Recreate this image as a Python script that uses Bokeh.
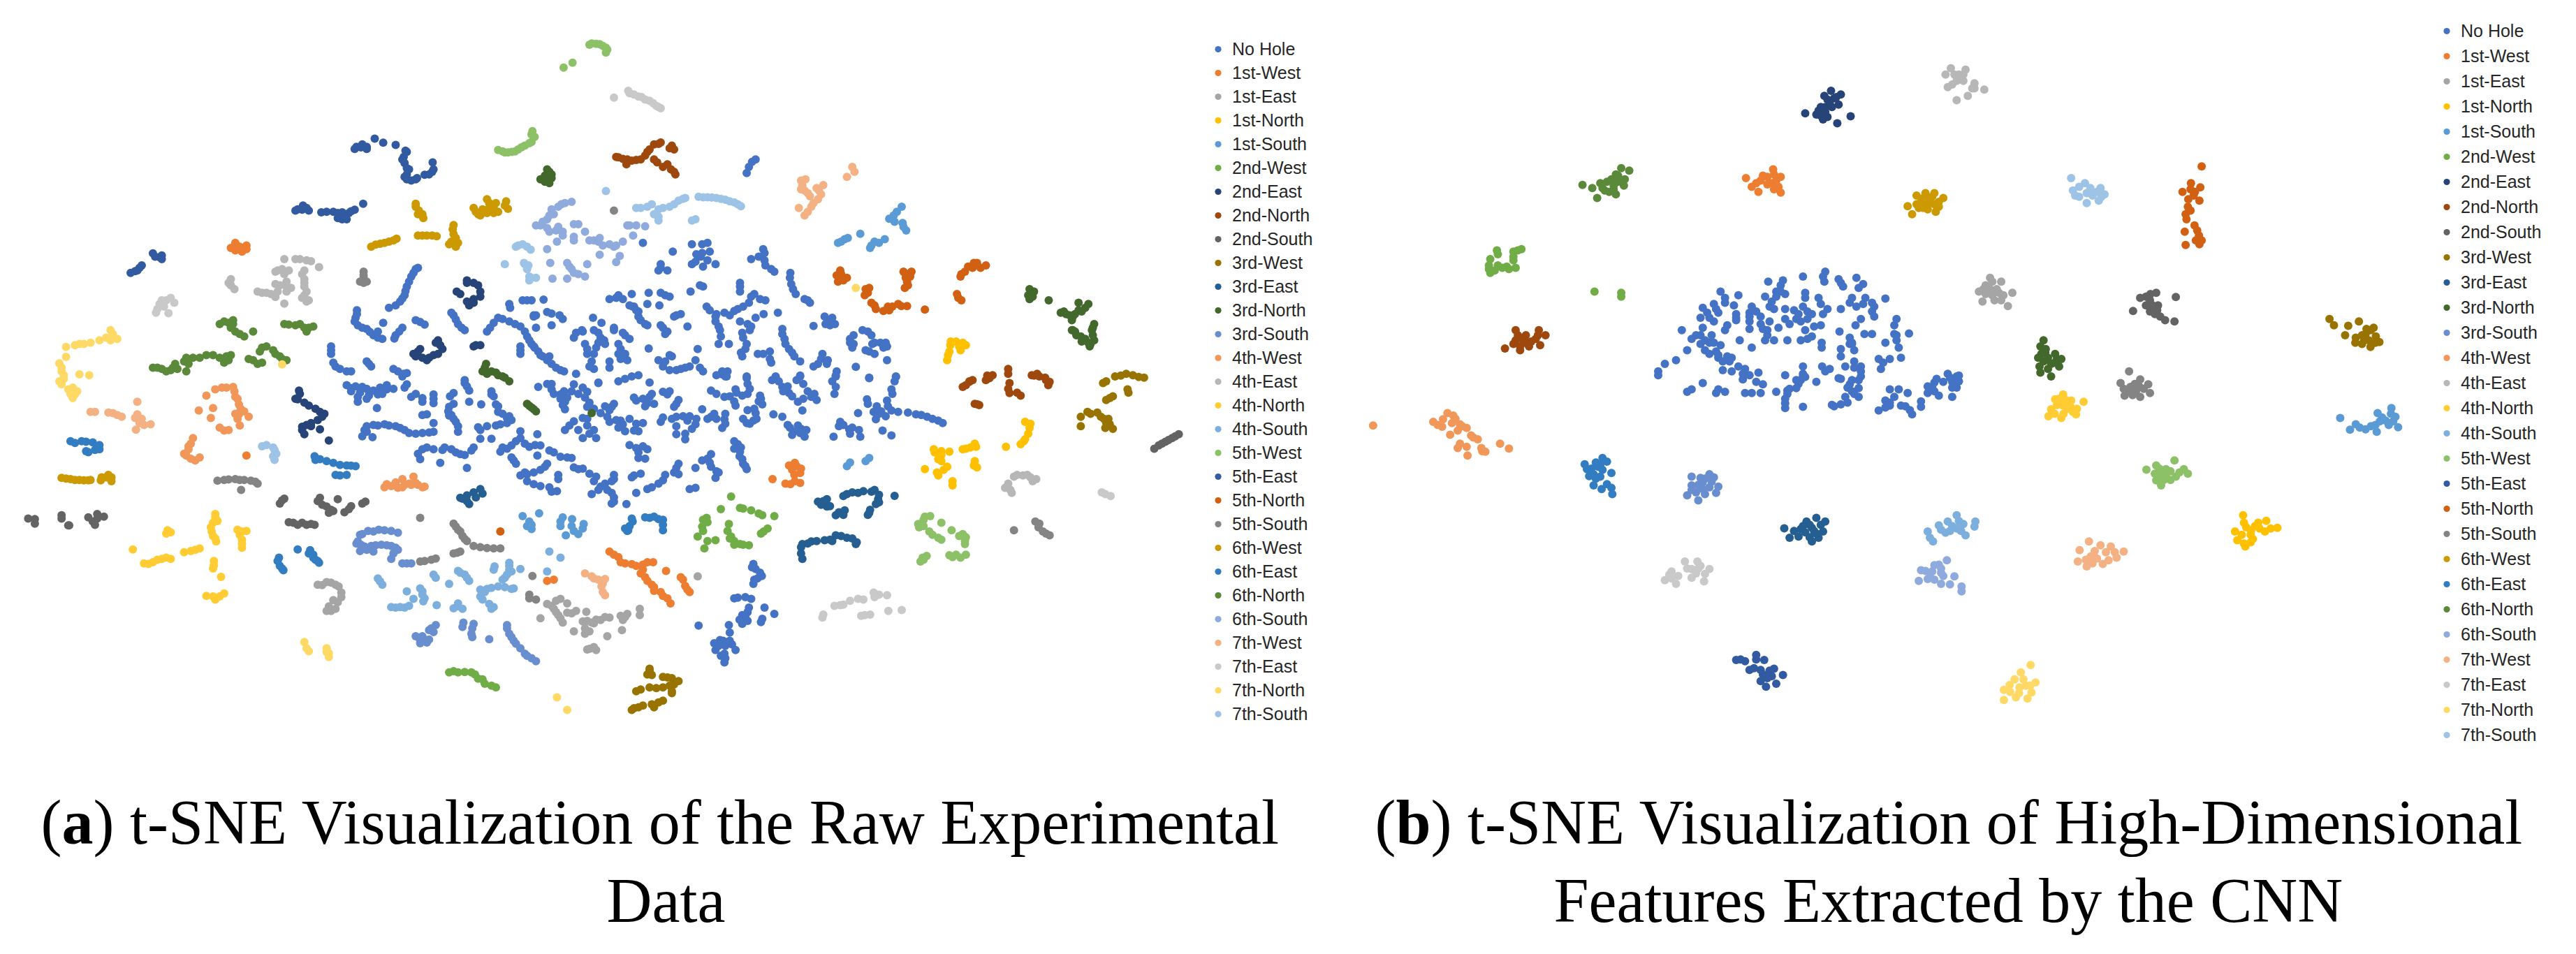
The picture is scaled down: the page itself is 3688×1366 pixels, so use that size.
from bokeh.embed import file_html
from bokeh.resources import INLINE
from bokeh.plotting import figure
from bokeh.models import Range1d, Legend, LegendItem
from bokeh.layouts import row
from bokeh.core.properties import value

NAMES = ["No Hole","1st-West","1st-East","1st-North","1st-South","2nd-West","2nd-East","2nd-North","2nd-South",
         "3rd-West","3rd-East","3rd-North","3rd-South","4th-West","4th-East","4th-North","4th-South",
         "5th-West","5th-East","5th-North","5th-South","6th-West","6th-East","6th-North","6th-South",
         "7th-West","7th-East","7th-North","7th-South"]
COLORS = ["#4472C4","#ED7D31","#A5A5A5","#FFC000","#5B9BD5","#70AD47","#264478","#9E480E","#636363",
          "#997300","#255E91","#43682B","#698ED0","#F1975A","#B7B7B7","#FFCD33","#7CAFDD",
          "#8CC168","#325AA0","#D26012","#848484","#CC9A00","#327DC2","#5A8A39","#8FAADC",
          "#F4B183","#C9C9C9","#FFD966","#9DC3E6"]

# Panel (a): t-SNE embedding of the raw data (arbitrary embedding units)
A = {}
A["No Hole"] = [(945,1100),(935,1130),(925,1170),(920,1205),(910,1230),(885,1255),(813,1265),(810,1295),(815,1325),(835,1340),(850,1365),(870,1380),(872,1315),
 (955,1312),(915,1335),(900,1365),(1030,1285),(1040,1320),(1055,1345),(1105,1350),(1130,1295),(1155,1310),(1180,1330),(1195,1370),(1205,1400),(1220,1430),(1240,1465),(1270,1505),
 (1180,1425),(1155,1240),(1185,1225),(1205,1225),(1232,1222),(1210,1285),(1250,1278),(1275,1300),(1215,1335),(1250,1325),(1395,1215),(1430,1200),(1468,1195),(1505,1205),(1432,1250),(1465,1240),(1492,1245),
 (1343,1295),(1362,1315),(1390,1335),(1300,1375),(1320,1350),(1345,1345),(1360,1375),(1415,1365),(1370,1400),(1435,1250),(1445,1290),(1460,1320),(1500,1335),(1505,1360),(1530,1285),(1555,1330),
 (755,1425),(765,1490),(790,1510),(840,1480),(905,1510),(915,1530),(1330,1420),(1340,1470),(1345,1500),(1380,1495),(1405,1420),(1405,1460),(1468,1418),(1520,1450),(1500,1490),(1530,1505),(1560,1490),
 (1305,1520),(1250,1560),(1355,1555),(1430,1530),(1400,1550),(1470,1555),(1490,1465),(1495,1095),(1522,1030),(1455,995),(1565,1000),(1565,1080),(1562,1190),
 (800,1577),(825,1572),(850,1587),(880,1582),(815,1612),(840,1607),(860,1602),(858,1657),(925,1517),(925,1562),(935,1612),(960,1617),(985,1602),(985,1637),
 (1055,1557),(1030,1597),(1065,1587),(1065,1632),(1115,1602),(1092,1642),(1125,1642),(1130,1672),(1150,1697),(1150,1717),(1125,1727),(1085,1734),(970,1682),(985,1717),(1020,1652),(1020,1687),(1035,1712),(1040,1752),
 (1220,1572),(1250,1582),(1270,1602),(1280,1632),(1300,1562),(1330,1592),(1355,1557),(1280,1662),(1330,1652),(1385,1652),(1360,1677),
 (835,1752),(860,1727),(885,1727),(910,1737),(930,1757),(960,1757),(985,1752),(848,1774),(1090,1780),(1115,1780),(1180,1777),(1160,1807),(1135,1832),(1200,1812),(1218,1762),(1225,1807),(1218,1847),
 (960,1822),(955,1862),(985,1822),(1025,1822),(1045,1842),(1070,1827),(1000,1877),(1060,1897),(1165,1867),(1245,1827),(1270,1852),(1295,1857),(1195,1922),(1180,1927),(1235,1892),(1210,1962),(1265,1942),(1250,1992),(1340,2002),
 (1310,1902),(1350,1932),(1390,1942),(1360,1972),(1385,1997),(1390,2032),(1418,2042),(1440,1817),(1465,1822),(1445,1857),(1435,1927),(1500,1947),(1465,1982),(1440,1997),(1530,1897),(1535,1922),(1560,1982),
 (1440,1627),(1470,1612),(1465,1637),(1500,1592),(1525,1652),(1510,1602),(1380,1712),(1410,1722),(1435,1747),(1455,1717),(1495,1712),(1530,1692),(1555,1707),(1530,1762),(1550,1782),
 (1290,1727),(1320,1697),(1330,1727),(1320,1777),(1350,1777),(1405,1707),(1375,1692),
 (1708,660),(1693,690),(1688,715),(1588,1000),(1588,1035),(1573,1070),(1618,1080),(1728,1035),(1698,1060),(1728,1065),(1743,1100),(1786,1115),(1788,1160),(1798,1200),(1830,1235),(1818,1220),(1583,1165),(1673,1170),(1673,1190),
 (1698,1210),(1718,1220),(1693,1235),(1668,1260),(1598,1250),(1638,1275),(1618,1310),(1726,1280),(1758,1275),(1698,1330),(1678,1355),(1628,1345),(1673,1310),(1768,1340),(1773,1380),(1783,1420),(1838,1328),(1873,1305),(1863,1290),(1886,1320),
 (1688,1400),(1678,1450),(1713,1440),(1648,1400),(1743,1475),(1808,1470),(1858,1440),(1848,1480),(1868,1480),(1928,1365),(1928,1400),(1948,1345),(1968,1365),(1988,1395),(2003,1410),(1963,1430),(2003,1465),(1933,1492),
 (1578,1420),(1573,1465),(1583,1495),(1633,1510),(1643,1530),(1688,1530),(1753,1530),(1808,1530),(1888,1530),(1963,1535),(2023,1530),
 (1633,1522),(1688,1537),(1753,1532),(1768,1572),(1808,1527),(1888,1527),(1888,1572),(1963,1537),(2023,1532),(2013,1582),(1608,1587),(1638,1612),(1663,1582),(1678,1607),(1663,1647),(1718,1607),(1723,1642),(1708,1677),
 (1783,1597),(1803,1632),(1833,1612),(1813,1667),(1748,1682),(1768,1692),(1588,1662),(1608,1692),(1638,1702),(1633,1737),(1573,1722),(1688,1717),(1703,1707),
 (2003,1627),(2013,1667),(2028,1672),(1938,1677),(1973,1672),(1978,1702),(2068,1682),(2093,1692),(2118,1707),(2128,1717),(1958,1622),(1803,1727),(1808,1757),(1818,1772),(1793,1752),
 (1898,1712),(1918,1742),(1943,1772),(1883,1772),(1993,1747),(2013,1767),(1668,1802),(1673,1832),(1678,1862),(1688,1902),(1608,1842),(1588,1867),(1608,1892),(1618,1937),(1573,1897),(1573,1977),
 (1703,2282),(1718,2317),(1703,2362),(1708,2302),(1668,2417),(1698,2422),(1693,2457),(1728,2457),(1678,2487),(1678,2522),(1723,2502),(1750,2482),(1648,2527),(1650,2557),(1580,2529),
 (1628,2587),(1648,2597),(1618,2627),(1638,2642),(1663,2627),(1638,2677),
 (950,1095),(940,1115),(930,1150),(922,1188),(915,1218),(900,1245),(813,1280),(808,1310),(825,1335),(842,1352),(860,1375),(860,1350),(945,1305),(965,1322),(908,1350),(897,1378),(1025,1275),(1035,1302),(1048,1335),
 (1112,1335),(1120,1315),(1140,1300),(1168,1320),(1190,1350),(1200,1385),(1212,1415),(1230,1450),(1250,1480),(1260,1495),(1278,1510),(1210,1410),(1225,1445),(1245,1450),(1180,1410),(1180,1440),(1157,1255),(1195,1225),(1215,1285),(1240,1272),(1268,1285),(1210,1290),
 (1380,1220),(1400,1205),(1410,1220),(1495,1195),(1515,1210),(1425,1245),(1440,1265),(1325,1400),(1330,1440),(1335,1490),(1345,1440),(1350,1415),(1400,1400),(1400,1440),(1415,1440),(1420,1465),(1380,1470),
 (1305,1355),(1318,1345),(1355,1355),(1355,1395),(1368,1385),(1410,1355),(1425,1380),(1390,1345),(1445,1270),(1450,1305),(1465,1325),(1495,1325),(1510,1350),(1525,1290),(1540,1280),
 (755,1440),(755,1410),(760,1475),(775,1500),(800,1510),(835,1470),(845,1490),(895,1500),(918,1520),(1515,1505),(1550,1495),(1540,1500),(1505,1470),(1515,1445),(1415,1540),(1445,1525),(1495,1080),(1490,1105),(1510,1105),
 (790,1565),(800,1590),(810,1570),(835,1580),(840,1590),(865,1575),(880,1565),(895,1580),(820,1595),(870,1600),(835,1620),(815,1632),(920,1575),(945,1600),(960,1632),(985,1620),
 (1055,1545),(1060,1570),(1022,1610),(1030,1640),(1115,1590),(1120,1610),(1130,1650),(1140,1680),(1155,1690),(1160,1705),(1135,1722),(1105,1730),(1090,1745),(960,1685),(1018,1670),(1030,1700),(1040,1730),(1025,1685),
 (1240,1560),(1255,1600),(1278,1590),(1285,1615),(1275,1645),(1295,1590),(1320,1575),(1310,1600),(1270,1620),(1325,1615),(1335,1635),(1345,1660),(1370,1650),(1380,1665),(1390,1640),
 (825,1770),(835,1730),(850,1725),(875,1722),(900,1730),(920,1745),(945,1760),(975,1755),(830,1745),(1170,1790),(1150,1820),(1140,1815),(1180,1750),(1190,1800),(1213,1805),(950,1840),(970,1815),(1005,1825),(1010,1815),(1035,1835),(1055,1845),(1075,1815),
 (1160,1855),(1255,1835),(1285,1855),(1170,1880),(1190,1915),(1210,1915),(1225,1905),(1240,1880),(1195,1950),(1225,1970),(1245,1975),(1265,1925),(1262,1990),(1300,1895),(1320,1900),(1335,1920),(1345,1950),(1355,1985),(1370,1960),(1390,1925),(1385,1950),(1375,1985),(1390,2015),(1385,2040),
 (1425,1805),(1455,1810),(1445,1835),(1460,1860),(1430,1935),(1450,1920),(1490,1960),(1505,1925),(1525,1915),(1535,1880),(1475,1975),(1435,1615),(1455,1620),(1460,1650),(1480,1640),(1475,1600),(1515,1590),(1530,1640),(1535,1625),(1395,1705),(1400,1735),(1415,1750),(1440,1720),(1425,1700),(1445,1750),(1500,1695),(1520,1700),(1545,1690),(1560,1690),(1530,1730),(1565,1740),(1550,1760),
 (1280,1745),(1300,1710),(1310,1745),(1330,1700),(1335,1760),(1345,1745),(1700,670),(1600,995),(1605,1030),(1585,1050),(1600,1065),(1575,1040),(1590,1090),(1725,1020),(1715,1050),(1730,1085),(1750,1110),(1785,1135),(1792,1180),(1825,1225),(1590,1170),(1673,1155),
 (1705,1200),(1730,1225),(1680,1250),(1660,1268),(1605,1265),(1620,1280),(1650,1285),(1618,1290),(1708,1295),(1690,1320),(1695,1345),(1680,1375),(1625,1330),(1630,1370),(1768,1360),(1775,1400),(1790,1435),(1795,1450),(1865,1320),(1875,1325),(1880,1295),
 (1685,1420),(1675,1435),(1725,1440),(1740,1430),(1625,1400),(1740,1460),(1855,1460),(1870,1465),(1838,1490),(1890,1510),(1920,1380),(1925,1415),(1960,1350),(1975,1395),(1995,1415),(1970,1400),(2000,1395),(1955,1425),(1975,1440),(1920,1395),(1590,1510),(1645,1510),(1620,1525),
 (1640,1530),(1690,1560),(1745,1545),(1760,1550),(1770,1590),(1780,1570),(1800,1545),(1815,1560),(1825,1590),(1840,1600),(1845,1625),(1815,1620),(1790,1610),(1880,1550),(1885,1600),(2020,1550),(2015,1600),(2005,1650),
 (1620,1600),(1650,1610),(1660,1630),(1665,1595),(1690,1600),(1695,1580),(1715,1630),(1720,1620),(1705,1660),(1690,1665),(1600,1700),(1620,1700),(1640,1720),(1615,1680),(1640,1680),(1575,1700),(1680,1700),(1695,1720),(1710,1700),
 (1980,1650),(1990,1670),(1985,1680),(2000,1690),(2050,1675),(2080,1685),(2105,1700),(1960,1640),(1780,1725),(1790,1765),(1810,1740),(1822,1745),(1785,1735),(1895,1730),(1905,1725),(1925,1735),(1920,1760),(1940,1745),
 (1660,1820),(1675,1815),(1660,1790),(1672,1850),(1680,1880),(1685,1890),(1600,1860),(1605,1875),(1620,1910),(1625,1915),(1700,2295),(1722,2330),(1712,2340),(1705,2345),(1690,2475),(1685,2495),(1672,2505),(1690,2510),(1660,2420),(1685,2415),(1720,2515),
 (1625,2610),(1640,2610),(1655,2605),(1630,2650),(1640,2660),(1650,2590),(1615,2600),(1635,2590)]
A["1st-West"] = [(540,995),(565,1005),(540,1025),(555,1030),(565,1847),(1380,2232),(1400,2255),(1405,2275),(1430,2283),(1455,2285),(1478,2275),(1455,2305),(1460,2335),(1475,2365),(1480,2390),(1500,2410),(1517,2440),(1507,2310),(1545,2345),(1550,2370),(1560,2395),(1240,2350),(1255,2345),
 (1796,1877),(1783,1887),(1808,1917),(1746,1942),(1786,1962),(1808,1957),(550,1010),(530,1015),(565,1020),(540,1010),(1390,2245),(1415,2280),(1440,2290),(1465,2275),(1450,2320),(1465,2350),(1480,2375),(1495,2395),(1510,2420),(1540,2335),(1555,2385),(1800,1890),(1790,1905),(1810,1900),(1795,1925),(1796,1950),(1775,1960)]
A["1st-East"] = [(735,2367),(755,2357),(772,2372),(778,2397),(760,2427),(750,2452),(765,2462),(1270,2422),(1240,2442),(1255,2462),(1265,2487),(1285,2477),(1275,2517),(1225,2500),(1328,2474),(1320,2512),(1340,2517),(1360,2507),(1380,2497),(1420,2482),(1410,2507),(1448,2462),(1448,2487),(1300,2552),(1325,2562),(1335,2552),(1375,2572),(1408,2547),(1335,2622),(1350,2627),(1578,2332),
 (725,2365),(745,2355),(765,2365),(778,2415),(770,2435),(745,2470),(755,2470),(1250,2450),(1260,2475),(1270,2500),(1260,2430),(1285,2440),(1295,2480),(1305,2470),(1330,2510),(1350,2505),(1370,2495),(1345,2520),(1415,2495),(1405,2490),(1325,2540),(1330,2625),(1345,2615)]
A["1st-North"] = [(2146,1390),(2173,1395),(2168,1425),(2143,1430),(2138,1465),(2108,1822),(2143,1832),(2118,1862),(2138,1892),(2118,1927),(2088,1902),(2173,1822),(2203,1812),(2198,1887),(2150,1967),(2313,1712),(2323,1737),(2313,1782),(2303,1802),(2270,1812),
 (2158,1390),(2145,1405),(2165,1410),(2180,1405),(2140,1445),(2110,1835),(2125,1830),(2125,1845),(2125,1870),(2130,1905),(2115,1915),(2180,1820),(2190,1815),(2200,1800),(2200,1870),(2205,1895),(2150,1950),(2325,1720),(2320,1760),(2310,1790)]
A["1st-South"] = [(1185,2090),(1200,2112),(1205,2142),(1222,2079),(1270,2112),(1296,2102),(1322,2122),(1282,2167),(1310,2162),(2036,850),(2018,885),(2008,898),(2038,915),(2046,945),(1943,958),(1908,980),(1893,995),(1968,1005),(1998,980),(1963,1857),(1913,1890),
 (1195,2130),(1205,2125),(1270,2130),(1275,2095),(1295,2130),(1320,2140),(1300,2150),(2025,870),(2020,910),(2040,930),(1915,975),(1900,990),(1975,990),(1985,995),(1965,1015),(1955,1870),(1920,1875)]
A["2nd-West"] = [(1653,2012),(1598,2097),(1588,2132),(1630,2062),(1673,2057),(1698,2067),(1723,2087),(1750,2090),(1726,2152),(1648,2122),(1653,2172),(1673,2202),(1693,2207),(1578,2172),(1618,2187),(1593,2220),(1040,2717),(1070,2717),(1085,2742),(1100,2762),(1125,2777),(1020,2717),
 (1600,2115),(1650,2180),(1660,2190),(1645,2150),(1680,2060),(1715,2080),(1735,2140),(1720,2160),(1590,2105),(1590,2150),(1600,2190),(1660,2205),(1680,2205),(1030,2712),(1055,2715),(1078,2725),(1095,2745),(1115,2770)]
A["2nd-East"] = [(1060,1145),(1075,1155),(1037,1190),(1090,1190),(1075,1220),(1065,1245),(955,1420),(940,1440),(960,1455),(995,1385),(1005,1420),(985,1445),(970,1465),(1080,1405),
 (683,1587),(680,1622),(705,1647),(730,1672),(735,1692),(710,1717),(690,1732),(695,1762),(730,1742),(750,1787),(1060,1155),(1085,1165),(1045,1200),(1090,1210),(1060,1230),(1075,1235),(950,1430),(945,1450),(990,1395),(1000,1405),(995,1440),(975,1455),(1075,1410),(1090,1405),(685,1600),(675,1620),(695,1635),(720,1660),(740,1680),(725,1705),(700,1725),(690,1745),(710,1730)]
A["2nd-North"] = [(1400,652),(1420,660),(1440,662),(1418,680),(1465,630),(1480,600),(1495,592),(1520,605),(1525,620),(1487,672),(1510,680),(1518,700),(1528,720),
 (2275,1500),(2328,1525),(2358,1535),(2233,1535),(2188,1550),(2173,1572),(2188,1552),(2233,1537),(2228,1527),(2278,1557),(2278,1597),(2303,1607),(2333,1527),(2368,1552),(2206,1642),
 (1395,650),(1410,658),(1430,665),(1450,660),(1460,645),(1470,620),(1490,598),(1515,615),(1480,660),(1500,690),(1525,710),(2195,1545),(2180,1565),(2225,1545),(2240,1525),(2275,1520),(2275,1580),(2295,1595),(2345,1530),(2360,1545),(2365,1565),(2340,1520),(2200,1640),(2210,1645)]
A["2nd-South"] = [(90,2102),(150,2087),(167,2127),(230,2082),(220,2112),(245,2092),(645,2027),(730,2017),(745,2052),(770,2022),(832,2032),(750,2077),(795,2062),(670,2117),(690,2117),(710,2122),(2613,1807),(2628,1792),(2643,1777),(2658,1762),
 (90,2120),(75,2100),(150,2100),(165,2127),(230,2100),(225,2125),(210,2095),(640,2040),(650,2020),(725,2030),(735,2045),(755,2065),(760,2070),(785,2075),(800,2050),(825,2040),(660,2115),(680,2125),(700,2125),(718,2125),(2603,1820),(2620,1800),(2635,1785),(2650,1770)]
A["3rd-West"] = [(1470,2702),(1475,2727),(1510,2737),(1535,2752),(1440,2792),(1470,2777),(1500,2777),(1520,2792),(1445,2857),(1430,2867),(1490,2837),(1480,2857),
 (2528,1527),(2568,1532),(2488,1557),(2543,1582),(2503,1617),(2453,1672),(2483,1692),(2503,1722),(2493,1737),(2438,1692),(2438,1730),
 (1470,2710),(1465,2725),(1500,2735),(1520,2740),(1525,2765),(1450,2785),(1485,2780),(1515,2770),(1435,2860),(1455,2850),(1500,2830),(1475,2845),(1520,2800),(2515,1530),(2540,1520),(2555,1525),(2580,1535),(2495,1550),(2510,1610),(2495,1625),(2460,1680),(2475,1675),(2490,1700),(2500,1700),(2510,1740),(2495,1715),(2545,1595)]
A["3rd-East"] = [(1090,1982),(1060,2007),(1045,2017),(1065,2042),(1848,2032),(1868,2022),(1868,2052),(1913,2002),(1938,1997),(1968,1992),(1983,2022),(1978,2042),(1963,2077),(1908,2067),(1888,2087),(2020,2009),
 (1813,2202),(1833,2192),(1863,2187),(1888,2167),(1913,2177),(1933,2202),(1813,2262),(1075,1995),(1095,2000),(1050,2020),(1080,2015),(1060,2030),(1860,2030),(1855,2045),(1875,2050),(1905,2010),(1925,1995),(1950,1990),(1975,1985),(1985,2005),(1985,2035),(1965,2065),(1960,2085),(1895,2075),(1905,2085),(1810,2215),(1825,2200),(1845,2190),(1875,2185),(1900,2170),(1925,2180),(1810,2240),(1935,2195),(1880,2190)]
A["3rd-North"] = [(1245,710),(1235,725),(1225,740),(1245,755),(1250,720),(1103,1480),(1095,1510),(1115,1510),(1130,1525),(1145,1535),(1155,1550),(1195,1640),(1205,1655),(1215,1670),(1340,1677),
 (2433,1235),(2448,1255),(2433,1265),(2393,1275),(2413,1285),(2418,1305),(2468,1320),(2463,1345),(2418,1345),(2428,1365),(2448,1380),(2468,1385),(2458,1410),(2366,1225),(2323,1180),(2333,1190),(2323,1220),
 (1240,700),(1250,735),(1235,750),(1100,1495),(1105,1520),(1125,1515),(1140,1530),(1200,1648),(1210,1662),(2425,1280),(2440,1270),(2400,1270),(2405,1280),(2420,1290),(2455,1240),(2420,1345),(2425,1350),(2438,1370),(2440,1390),(2455,1395),(2465,1365),(2465,1335),(2460,1400),(2320,1205),(2330,1210)]
A["3rd-South"] = [(825,2162),(850,2152),(875,2147),(905,2157),(815,2192),(830,2212),(855,2207),(880,2207),(900,2217),(820,2230),(850,2232),(890,2262),(925,2280),(960,2572),(975,2547),(990,2527),(945,2572),(970,2597),(1052,2517),(1075,2522),(1070,2562),(1110,2584),(1150,2527),(1155,2562),(1170,2602),(1190,2642),(1215,2672),
 (820,2165),(838,2150),(862,2145),(890,2150),(812,2200),(822,2205),(845,2210),(868,2205),(890,2210),(905,2225),(835,2225),(895,2240),(915,2280),(935,2280),(955,2590),(965,2585),(980,2540),(985,2555),(975,2585),(955,2600),(1050,2535),(1072,2540),(1072,2575),(1150,2540),(1160,2575),(1165,2590),(1180,2620),(1195,2650),(1205,2660)]
A["4th-West"] = [(495,1582),(535,1572),(540,1612),(548,1642),(475,1607),(458,1667),(490,1657),(485,1697),(548,1682),(570,1692),(550,1727),(515,1747),(445,1777),(435,1822),(430,1847),(450,1867),(880,1962),(915,1942),(940,1932),(945,1957),(965,1972),(905,1977),
 (510,1575),(520,1575),(538,1590),(545,1620),(552,1660),(560,1670),(545,1700),(540,1680),(525,1745),(505,1735),(440,1800),(435,1810),(425,1840),(440,1860),(460,1855),(875,1975),(890,1970),(900,1955),(930,1960),(950,1965),(960,1975),(935,1965),(920,1965),(915,1975)]
A["4th-East"] = [(650,1060),(685,1060),(710,1068),(728,1092),(635,1105),(660,1105),(695,1105),(695,1140),(630,1160),(655,1150),(695,1170),(655,1190),(590,1190),(610,1195),(630,1212),(690,1215),(705,1225),(650,1238),(530,1140),(530,1165),(538,1180),(2288,1932),(2308,1927),(2338,1942),(2268,1977),(2283,1997),(2318,1925),(2330,1950),
 (675,1060),(700,1065),(645,1100),(630,1110),(650,1120),(690,1120),(695,1155),(700,1190),(695,1205),(700,1230),(640,1165),(665,1175),(655,1170),(600,1195),(620,1200),(635,1190),(525,1155),(2275,1960),(2280,1985),(2295,1925),(2325,1935)]
A["4th-North"] = [(495,2082),(490,2117),(487,2152),(497,2192),(388,2147),(555,2152),(555,2217),(310,2224),(440,2230),(375,2262),(345,2282),(385,2257),(492,2287),(508,2334),(490,2412),(505,2412),
 (495,2095),(500,2110),(485,2135),(490,2170),(495,2180),(385,2160),(395,2155),(550,2165),(555,2185),(555,2200),(565,2150),(545,2145),(450,2225),(425,2235),(460,2220),(335,2280),(355,2275),(365,2265),(395,2262),(490,2300),(475,2410),(495,2425),(515,2400),(492,2270)]
A["4th-South"] = [(865,2352),(990,2337),(1020,2362),(1045,2317),(1060,2337),(925,2392),(960,2392),(962,2432),(940,2422),(900,2457),(920,2457),(992,2447),(1040,2452),(1122,2292),(1155,2277),(1160,2312),(1145,2337),(1180,2302),(1240,2312),(1245,2232),(1270,2257),(1105,2382),(1130,2372),(1160,2382),(1090,2412),(1110,2442),(1115,2462),
 (860,2340),(870,2365),(985,2325),(1040,2310),(1055,2325),(1065,2350),(960,2405),(965,2420),(955,2380),(890,2455),(910,2455),(930,2450),(1040,2440),(1030,2460),(1050,2462),(1120,2305),(1155,2290),(1155,2305),(1150,2325),(1140,2345),(1100,2395),(1095,2425),(1115,2378),(1145,2375),(1165,2380),(1120,2455),(1090,2385)]
A["5th-West"] = [(1335,200),(1350,197),(1365,205),(1375,220),(1372,232),(1277,292),(1297,272),(1207,547),(1212,570),(1205,590),(1190,605),(1175,620),(1160,630),(1145,632),(1130,622),
 (2088,2092),(2073,2122),(2098,2152),(2118,2177),(2125,2117),(2148,2147),(2173,2162),(2178,2202),(2083,2257),(2078,2272),(2143,2247),(2168,2257),(1340,195),(1358,198),(1372,212),(1205,560),(1200,595),(1182,612),(1168,628),(1152,632),(1140,628),(2100,2090),(2085,2105),(2085,2130),(2105,2165),(2125,2185),(2075,2135),(2165,2170),(2178,2190),(2180,2175),(2085,2265),(2092,2250),(2150,2255),(2158,2245),(2180,2245)]
A["5th-East"] = [(808,618),(825,600),(835,610),(853,577),(872,593),(900,602),(922,625),(918,650),(920,675),(925,695),(925,720),(935,745),(948,735),(965,722),(982,710),(983,672),
 (680,860),(692,845),(705,865),(733,872),(760,870),(780,872),(780,900),(795,875),(808,862),(827,838),(355,1037),(370,1052),(375,1060),(325,1095),(315,1108),(305,1115),
 (812,610),(822,612),(835,618),(925,630),(915,660),(930,700),(920,730),(925,740),(945,740),(975,720),(985,700),(690,862),(675,865),(700,855),(745,870),(770,875),(785,885),(770,895),(790,900),(800,868),(360,1050),(375,1045),(320,1105),(330,1085)]
A["5th-North"] = [(1898,1105),(1913,1135),(1893,1150),(1963,1175),(1953,1205),(1968,1235),(1978,1260),(2008,1265),(2028,1240),(2048,1248),(2088,1262),(2043,1115),(2058,1110),(2048,1150),(2043,1175),(2198,1075),(2213,1095),(2178,1110),(2168,1130),(2163,1215),(1135,2152),
 (1890,1125),(1905,1145),(1900,1120),(1960,1195),(1955,1180),(1975,1245),(1995,1268),(2015,1250),(2035,1248),(2005,1250),(2040,1110),(2055,1130),(2045,1135),(2050,1165),(2185,1090),(2205,1075),(2225,1085),(2195,1095),(2170,1120),(2160,1200),(2170,1225)]
A["5th-South"] = [(1390,865),(828,1110),(828,1135),(828,1155),(500,1948),(525,1943),(550,1945),(575,1948),(590,1960),(553,1985),(955,2097),(1035,2132),(1045,2152),(1055,2182),(1075,2210),(1105,2218),(1135,2220),(1038,2237),(980,2265),(955,2272),(1207,2330),(1200,2405),(1215,2425),(2288,2147),(2336,2112),(2353,2152),(2368,2167),
 (828,1125),(820,1150),(835,1150),(515,1945),(540,1942),(560,1945),(585,1952),(1030,2120),(1040,2145),(1050,2170),(1060,2190),(1090,2215),(1120,2220),(1030,2240),(1045,2232),(965,2270),(990,2260),(1200,2420),(2343,2135),(2345,2120),(2360,2160)]
A["6th-West"] = [(945,838),(952,865),(962,895),(845,1010),(865,998),(885,990),(902,978),(950,965),(970,965),(992,968),(1030,923),(1030,960),(1025,990),(1035,1010),(1075,855),(1085,880),(1105,820),(1110,855),(1125,835),(1130,870),(1148,828),(1152,858),(1105,875),
 (150,1937),(170,1942),(190,1945),(210,1947),(238,1947),(255,1925),(262,1950),(945,850),(950,880),(960,880),(855,1002),(875,995),(895,985),(960,965),(982,965),(1028,940),(1035,975),(1020,1000),(1040,995),(1080,870),(1095,860),(1110,835),(1120,855),(1145,845),(1120,875),(1090,885),(160,1940),(180,1945),(200,1947),(215,1945),(250,1935),(262,1935),(240,1935)]
A["6th-East"] = [(180,1797),(205,1792),(230,1812),(210,1834),(235,1822),(730,1862),(760,1877),(790,1887),(810,1890),(775,1927),(638,2257),(648,2307),(680,2224),(708,2227),(715,2257),(728,2277),(1432,2112),(1422,2147),(1470,2097),(1490,2102),(1500,2147),
 (170,1790),(195,1790),(220,1795),(235,1805),(225,1825),(205,1830),(718,1850),(720,1865),(745,1870),(775,1885),(800,1888),(765,1925),(790,1925),(635,2270),(640,2290),(645,2300),(705,2240),(715,2245),(720,2265),(725,2270),(1415,2140),(1425,2130),(1430,2100),(1460,2095),(1480,2092),(1500,2105),(1500,2125),(1420,2150)]
A["6th-North"] = [(515,1310),(535,1305),(530,1335),(550,1360),(580,1350),(660,1322),(685,1320),(705,1335),(700,1350),(365,1495),(385,1510),(405,1480),(430,1455),(435,1480),(460,1455),(490,1445),(520,1450),(515,1475),(430,1510),(600,1415),(625,1425),(640,1450),(655,1465),(580,1465),(600,1475),
 (505,1320),(525,1315),(535,1320),(540,1350),(560,1370),(650,1320),(675,1325),(695,1335),(715,1330),(355,1495),(375,1500),(395,1505),(410,1500),(400,1495),(425,1470),(445,1455),(475,1445),(505,1455),(530,1445),(525,1465),(595,1430),(610,1410),(630,1440),(645,1460),(570,1460),(590,1480)]
A["6th-South"] = [(1265,850),(1280,835),(1295,830),(1255,880),(1240,900),(1225,925),(1245,950),(1265,930),(1275,965),(1300,920),(1300,985),(1325,950),(1262,990),(1335,985),(1358,975),(1365,1005),(1390,1010),(1410,990),(1425,925),(1460,928),(1433,965),(1358,1042),(1403,1047),(1395,1072),(1247,1075),(1285,1075),(1330,1080),(1300,1115),(1325,1130),(1252,1138),(1285,1138),(1240,1020),
 (1250,860),(1272,840),(1245,885),(1230,910),(1215,925),(1240,935),(1260,945),(1275,950),(1310,920),(1300,970),(1345,985),(1355,990),(1380,1000),(1395,1005),(1420,925),(1440,925),(1290,1090),(1295,1100),(1310,1120)]
A["7th-West"] = [(225,1672),(265,1677),(285,1692),(320,1632),(320,1682),(325,1717),(350,1722),(317,1744),(1340,2332),(1370,2342),(1362,2372),(1370,2407),(1813,765),(1820,740),(1818,785),(1830,808),(1860,763),(1848,820),(1833,850),(1818,885),(1805,855),(1913,730),(1925,690),
 (215,1672),(255,1675),(275,1685),(315,1697),(330,1700),(335,1725),(1325,2320),(1345,2340),(1355,2345),(1365,2360),(1365,2395),(1810,745),(1810,780),(1825,795),(1850,785),(1845,775),(1855,800),(1838,835),(1825,870),(1930,710)]
A["7th-East"] = [(1390,412),(1422,385),(1435,400),(1452,410),(1470,425),(1485,445),(1495,455),(375,1225),(395,1215),(403,1235),(380,1250),(362,1275),(390,1277),(1858,2497),(1898,2447),(1938,2422),(1973,2397),(2003,2407),(1953,2487),(2006,2470),(2036,2467),(2493,2002),
 (1425,395),(1445,408),(1460,420),(1478,435),(1490,450),(370,1240),(385,1225),(365,1260),(1860,2485),(1885,2450),(1905,2445),(1920,2430),(1950,2425),(1985,2405),(1975,2415),(1945,2490),(1965,2485),(2485,1995),(2505,2010)]
A["7th-North"] = [(260,1345),(275,1380),(250,1375),(235,1385),(200,1400),(180,1405),(160,1412),(160,1452),(145,1478),(150,1510),(155,1540),(190,1522),(212,1525),(150,1562),(165,1582),(180,1602),(175,1617),(705,2632),(695,2595),(745,2620),(750,2640),(1262,2817),(1285,2867),(645,1482),(1933,1175),
 (265,1360),(260,1385),(215,1395),(190,1400),(150,1495),(155,1525),(145,1550),(175,1575),(185,1590),(170,1600),(745,2635),(750,2655),(700,2620)]
A["7th-South"] = [(1372,787),(1450,855),(1475,840),(1490,860),(1515,850),(1535,825),(1550,815),(1490,905),(1480,880),(1565,905),(1175,1005),(1195,1010),(1203,1022),(1145,1080),(1190,1080),(1198,1085),(1205,1135),(1200,1145),(1580,810),(1600,812),(1620,815),(1640,822),(1660,832),(1675,848),(1573,900),(600,1810),(625,1815),(632,1840),(628,1865),
 (1440,855),(1465,850),(1500,855),(1525,840),(1545,818),(1490,890),(1185,1000),(1170,1010),(1188,1075),(1195,1100),(1200,1130),(1215,1135),(1590,812),(1610,813),(1630,818),(1650,828),(1668,840),(610,1805),(628,1825),(625,1850)]

# Panel (b): t-SNE embedding of the CNN features (arbitrary embedding units)
B = {}
B["No Hole"] = [(1130,1110),(1128,1150),(1160,1140),(1080,1130),(1002,1150),(1035,1145),(1200,1135),(1215,1160),(1170,1170),(1265,1218),
 (895,1190),(905,1215),(935,1205),(925,1245),(855,1255),(880,1240),(865,1275),(890,1275),(850,1295),(880,1310),(930,1280),(930,1305),
 (965,1250),(995,1210),(1020,1190),(1030,1165),(1085,1195),(1115,1215),(1135,1260),(1165,1260),(1190,1215),(1220,1215),(1240,1250),(1240,1290),(1210,1300),(1198,1325),(1290,1300),(1285,1325),
 (960,1290),(985,1290),(1010,1230),(1040,1260),(1040,1300),(1065,1300),(1080,1250),(1100,1280),(960,1340),(985,1320),(1025,1335),(1085,1345),(1105,1330),(1120,1325),
 (808,1345),(840,1365),(855,1335),(875,1365),(905,1345),(1000,1365),(995,1385),(1045,1385),(1075,1385),(1100,1370),(1162,1350),(1185,1375),(1218,1360),(1235,1360),(1318,1358),(1285,1360),
 (850,1400),(870,1395),(895,1405),(820,1425),(860,1425),(885,1430),(938,1385),(965,1415),(1122,1395),(1122,1415),(1165,1420),(1165,1450),(1190,1400),(1195,1425),(1265,1395),(1290,1385),(1295,1415),
 (795,1465),(770,1480),(755,1510),(755,1525),(890,1455),(910,1450),(915,1470),(1250,1460),(1275,1460),(1300,1455),(1080,1490),(1123,1490),(1140,1500),(1175,1490),(1195,1470),(1210,1490),(1255,1500),
 (900,1505),(935,1490),(945,1520),(980,1515),(1040,1525),(1080,1520),(1165,1540),(1210,1530),(1375,1555),(1405,1520),(1425,1530),
 (830,1582),(855,1557),(820,1592),(890,1582),(885,1597),(905,1592),(950,1597),(965,1597),(985,1597),(945,1542),(975,1552),(990,1562),(1020,1592),(1045,1587),(1065,1577),(1085,1532),(1110,1552),(1040,1637),(1040,1657),(1080,1652),(1145,1644),(1165,1642),(1175,1612),(1205,1612),(1185,1562),(1205,1577),(1160,1537),(1275,1582),(1295,1582),(1315,1597),(1265,1627),(1285,1612),(1250,1667),(1275,1647),(1300,1647),(1325,1682),(1345,1652),(1360,1597),(1370,1572),(1385,1607),(1415,1552),(1395,1552),(1425,1552),(1415,1612),(1430,1527),
 (1125,1130),(1165,1155),(1205,1175),(1185,1235),(1200,1250),(1235,1270),(1235,1235),(1215,1240),(905,1235),(885,1260),(870,1295),(930,1295),(960,1275),(1005,1250),(1020,1210),(1015,1260),(1040,1200),(1030,1190),(1060,1265),(1085,1215),(1090,1270),(1120,1240),(1125,1280),(960,1310),(975,1270),(990,1340),(1005,1310),(1000,1345),(1075,1310),(1050,1320),(1090,1300),(1070,1280),
 (850,1365),(830,1380),(860,1385),(880,1395),(910,1325),(1015,1385),(1090,1380),(1185,1400),(1190,1395),(1290,1365),(870,1440),(890,1445),(900,1470),(920,1455),(1260,1475),(1130,1510),(1210,1510),(1195,1495),(1190,1545),
 (920,1510),(950,1500),(960,1525),(1075,1545),(1070,1560),(1050,1580),(1180,1575),(1190,1590),(1205,1545),(1380,1540),(1360,1570),(1375,1590),(1410,1535),(1430,1550),(1415,1575),(1425,1575),(1275,1635),(1265,1655),(1310,1650),(1320,1665),(1345,1630),(1150,1650),(1180,1635),(1195,1600),(1045,1600),(1040,1620),(1080,1530),(1065,1545)]
B["1st-West"] = [(1013,700),(1030,730),(1000,730),(1010,755),(952,735),(985,745),(965,770),(980,790),(1025,770),(1030,793),(1015,720),(1020,745),(990,725),(975,755),(1000,760),(1015,780)]
B["1st-East"] = [(1500,1135),(1525,1150),(1490,1165),(1515,1180),(1475,1190),(1505,1205),(1550,1195),(1483,1230),(1525,1225),(1540,1248),(1505,1150),(1500,1180),(1520,1195),(1490,1200),(1530,1205),(1510,1225),(1485,1180)]
B["1st-North"] = [(2068,2087),(2070,2117),(2102,2117),(2120,2109),(2145,2137),(2050,2152),(2086,2147),(2117,2152),(2055,2187),(2090,2182),(2073,2212),(2075,2135),(2095,2130),(2085,2165),(2065,2165),(2105,2140),(2070,2200),(2085,2195),(2130,2140)]
B["1st-South"] = [(2286,1697),(2370,1677),(2401,1657),(2321,1722),(2308,1744),(2343,1742),(2368,1752),(2388,1707),(2410,1692),(2416,1734),(2330,1735),(2355,1730),(2375,1710),(2400,1680),(2380,1695),(2405,1710),(2395,1725),(2365,1725)]
B["2nd-West"] = [(393,1025),(378,1060),(448,1020),(430,1030),(430,1065),(375,1085),(395,1085),(415,1090),(435,1095),(378,1115),(612,1190),(672,1195),(672,1210),(395,1040),(430,1050),(375,1100),(405,1095),(420,1100),(388,1105),(440,1025)]
B["2nd-East"] = [(1143,385),(1165,400),(1128,405),(1140,430),(1160,440),(1120,450),(1110,480),(1125,500),(1085,475),(1187,487),(1157,515),(1130,470),(1135,420),(1150,415),(1130,450),(1145,450),(1115,465),(1120,485),(1135,490),(1155,410)]
B["2nd-North"] = [(435,1345),(458,1365),(487,1345),(502,1365),(480,1380),(435,1385),(455,1395),(490,1405),(411,1418),(445,1425),(465,1410),(440,1365),(450,1380),(470,1390),(485,1365),(445,1410),(430,1400),(460,1395)]
B["2nd-South"] = [(1873,1195),(1917,1212),(1837,1215),(1859,1225),(1877,1245),(1821,1268),(1859,1270),(1882,1290),(1893,1305),(1914,1310),(1860,1200),(1850,1210),(1865,1245),(1875,1265),(1870,1280),(1850,1245)]
B["3rd-West"] = [(2262,1300),(2272,1325),(2304,1327),(2328,1310),(2297,1365),(2321,1375),(2361,1335),(2343,1360),(2366,1370),(2335,1400),(2354,1412),(2374,1392),(2345,1340),(2355,1345),(2335,1365),(2350,1385),(2365,1395),(2320,1395),(2340,1385)]
B["3rd-East"] = [(1110,2097),(1130,2112),(1088,2112),(1038,2139),(1075,2142),(1100,2137),(1125,2152),(1050,2177),(1070,2172),(1100,2192),(1115,2177),(1095,2125),(1080,2130),(1105,2150),(1085,2155),(1060,2150),(1110,2160),(1095,2175),(1120,2125)]
B["3rd-North"] = [(1620,1385),(1613,1410),(1624,1435),(1608,1455),(1646,1440),(1660,1460),(1611,1490),(1637,1480),(1655,1490),(1613,1515),(1637,1530),(1625,1420),(1615,1440),(1630,1455),(1650,1460),(1630,1500),(1620,1470),(1645,1475)]
B["3rd-South"] = [(830,1932),(870,1922),(850,1937),(830,1967),(875,1952),(890,1972),(855,1982),(885,1997),(820,2007),(845,2027),(860,2002),(855,1955),(845,1965),(870,1975),(880,1935),(860,1940),(840,1995),(830,1985)]
B["4th-West"] = [(115,1727),(282,1677),(295,1687),(250,1712),(272,1702),(270,1732),(292,1717),(310,1722),(325,1737),(305,1747),(288,1764),(335,1767),(350,1782),(305,1817),(325,1812),(358,1817),(367,1832),(327,1847),(400,1800),(420,1819),(260,1725),(300,1700),(315,1730),(340,1775),(360,1830),(310,1800)]
B["4th-East"] = [(1412,295),(1445,300),(1400,320),(1430,320),(1440,345),(1405,370),(1465,355),(1487,380),(1465,375),(1450,405),(1425,423),(1420,320),(1440,320),(1425,345),(1415,360),(1460,375)]
B["4th-North"] = [(1664,1602),(1646,1622),(1682,1627),(1710,1632),(1664,1647),(1637,1662),(1686,1672),(1631,1690),(1660,1697),(1693,1682),(1655,1620),(1670,1625),(1650,1645),(1675,1660),(1665,1680),(1645,1680),(1680,1650),(1695,1660)]
B["4th-South"] = [(1425,2087),(1467,2112),(1465,2132),(1405,2112),(1385,2127),(1440,2122),(1400,2157),(1445,2167),(1360,2152),(1365,2177),(1372,2192),(1415,2130),(1425,2140),(1430,2110),(1410,2150),(1390,2145),(1435,2150)]
B["5th-West"] = [(1914,1867),(1851,1904),(1873,1887),(1895,1902),(1935,1902),(1944,1920),(1873,1947),(1895,1932),(1917,1932),(1884,1967),(1880,1900),(1885,1925),(1905,1910),(1925,1915),(1890,1945),(1905,1945),(1870,1920)]
B["5th-East"] = [(930,2667),(950,2672),(975,2647),(993,2667),(960,2707),(985,2707),(1015,2702),(1035,2727),(1010,2732),(985,2752),(1020,2762),(997,2774),(940,2665),(975,2665),(970,2700),(990,2725),(1000,2740),(1005,2710)]
B["5th-North"] = [(1975,688),(1951,755),(1972,772),(1932,790),(1957,805),(1970,825),(1944,850),(1939,880),(1941,900),(1959,925),(1937,950),(1969,965),(1962,985),(1939,1003),(1975,985),(1950,780),(1945,820),(1960,790),(1950,865),(1965,945),(1970,1000)]
B["5th-South"] = [(1812,1510),(1837,1542),(1793,1557),(1815,1572),(1855,1562),(1802,1607),(1837,1612),(1859,1597),(1828,1587),(1825,1560),(1810,1590),(1845,1580),(1820,1605),(1835,1570),(1800,1580)]
B["6th-West"] = [(1335,805),(1355,795),(1375,795),(1395,815),(1345,830),(1365,820),(1315,848),(1340,855),(1385,850),(1360,860),(1378,870),(1325,880),(1350,815),(1370,810),(1335,840),(1360,840),(1375,840),(1350,855),(1385,830)]
B["6th-East"] = [(630,1857),(640,1872),(590,1882),(595,1902),(620,1892),(610,1922),(625,1932),(650,1917),(610,1967),(640,1962),(628,1982),(650,1977),(652,2002),(615,1875),(625,1885),(605,1900),(615,1940),(630,1905),(600,1930)]
B["6th-North"] = [(672,695),(690,705),(665,725),(680,740),(640,750),(625,755),(655,765),(678,765),(585,762),(607,775),(635,785),(618,815),(660,800),(655,780),(650,740),(665,750),(630,775),(645,790),(660,720)]
B["6th-South"] = [(1403,2267),(1375,2287),(1345,2307),(1370,2312),(1390,2317),(1420,2332),(1360,2342),(1340,2350),(1390,2362),(1410,2364),(1436,2372),(1436,2392),(1355,2310),(1385,2285),(1365,2335),(1395,2330),(1390,2300),(1375,2345)]
B["7th-West"] = [(1722,2192),(1748,2207),(1771,2212),(1701,2227),(1800,2232),(1726,2252),(1784,2257),(1697,2272),(1717,2292),(1753,2282),(1766,2267),(1735,2230),(1760,2235),(1715,2265),(1730,2280),(1780,2235),(1740,2260)]
B["7th-East"] = [(815,2272),(843,2272),(870,2302),(785,2312),(830,2302),(860,2322),(770,2347),(795,2362),(830,2337),(858,2352),(820,2300),(845,2300),(800,2330),(840,2320),(850,2290),(785,2340),(780,2325)]
B["7th-North"] = [(1591,2687),(1569,2717),(1602,2757),(1544,2767),(1566,2777),(1531,2787),(1531,2827),(1558,2817),(1584,2822),(1593,2797),(1575,2745),(1555,2745),(1580,2770),(1590,2770),(1545,2795),(1565,2800)]
B["7th-South"] = [(1682,735),(1713,755),(1686,785),(1717,795),(1748,775),(1757,800),(1717,835),(1744,825),(1691,805),(1700,770),(1725,775),(1740,790),(1700,810),(1730,805),(1750,810)]

CAPTION_A = [("(", "normal", 66, 1185), ("a", "bold", 96, 1185), (") t-SNE Visualization of the Raw Experimental", "normal", 141, 1185), ("Data", "normal", 876, 1297)]
CAPTION_B = [("(", "normal", 1976, 1185), ("b", "bold", 2006, 1185), (") t-SNE Visualization of High-Dimensional", "normal", 2056, 1185), ("Features Extracted by the CNN", "normal", 2232, 1297)]

SX, SY = 1.568, 2.8   # embedding units per screen pixel
H = 1350


def panel(data, width, left, unit_left, captions, leg_x, leg_y, spacing):
    p = figure(width=width, height=H, output_backend="svg", toolbar_location=None,
               x_range=Range1d(unit_left, unit_left + width * SX), y_range=Range1d((8 + H) * SY, 8 * SY),
               x_axis_type=None, y_axis_type=None, min_border=0, outline_line_color=None)
    p.grid.visible = False
    items = []
    for name, col in zip(NAMES, COLORS):
        pts = data[name]
        r = p.scatter([a for a, _ in pts], [b for _, b in pts], size=12, marker="circle",
                      fill_color=col, line_color=None)
        items.append(LegendItem(label=name, renderers=[r]))
    leg = Legend(items=items, location=(leg_x, leg_y), border_line_color=None, background_fill_alpha=0,
                 padding=0, margin=0, spacing=0, glyph_width=23, glyph_height=spacing, label_height=spacing,
                 label_standoff=9, label_text_font="Liberation Sans", label_text_font_size="25px",
                 label_text_color="#262626")
    p.add_layout(leg)
    for txt, style, px, py in captions:
        p.text([unit_left + (px - left) * SX], [py * SY], text=[txt], text_font=value("Liberation Serif"),
               text_font_size=value("90px"), text_font_style=style, text_color="#000000",
               text_baseline="alphabetic", text_align="left")
    return p


p1 = panel(A, 1892, 8, 8 * SX, CAPTION_A, 1732, 311, 34)
p2 = panel(B, 1780, 1900, 0, CAPTION_B, 1599, 280, 36)

layout = row(p1, p2, spacing=0)
open("out.html", "w").write(file_html(layout, INLINE))
